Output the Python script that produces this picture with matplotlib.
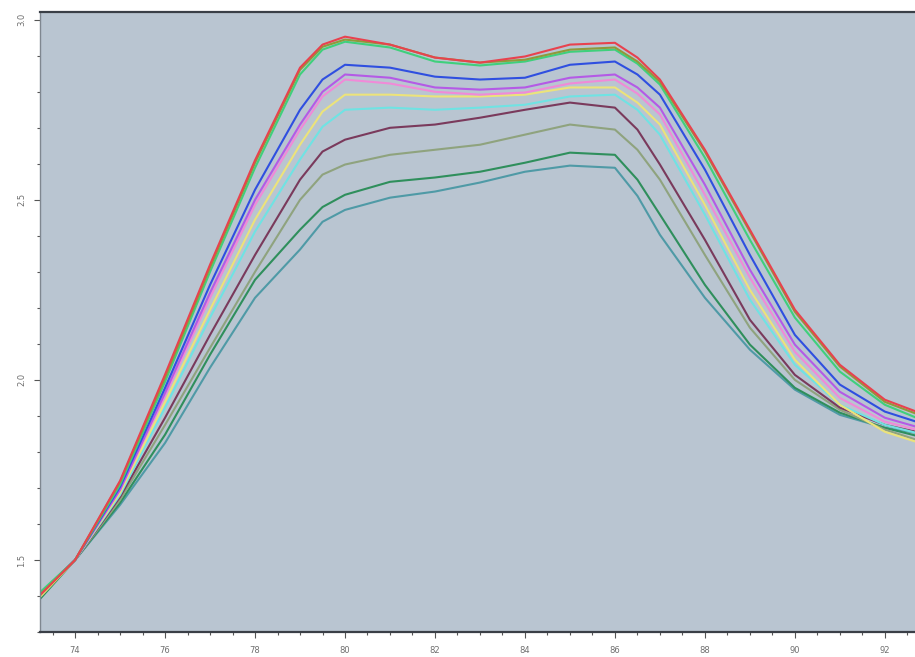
import matplotlib
matplotlib.use("Agg")
import matplotlib.pyplot as plt
from matplotlib.ticker import MultipleLocator, FixedLocator

# Temperature axis (°C) shared by all traces
temperature = [73.2, 74, 75, 76, 77, 78, 79, 79.5, 80, 81, 82, 83, 84, 85, 86,
               86.5, 87, 88, 89, 90, 91, 92, 92.7]

# Signal of each trace, ordered from highest to lowest at the plateau
red = [1.40, 1.50, 1.72, 2.015, 2.32, 2.61, 2.867, 2.931, 2.953, 2.931, 2.895,
       2.881, 2.898, 2.931, 2.936, 2.895, 2.834, 2.639, 2.417, 2.195, 2.042,
       1.945, 1.912]
olive = [1.40, 1.50, 1.717, 2.006, 2.312, 2.603, 2.861, 2.925, 2.945, 2.931, 2.895,
         2.881, 2.889, 2.917, 2.923, 2.884, 2.828, 2.634, 2.412, 2.189, 2.037,
         1.939, 1.906]
green = [1.408, 1.50, 1.709, 1.995, 2.30, 2.589, 2.848, 2.917, 2.939, 2.923, 2.884,
         2.873, 2.884, 2.911, 2.917, 2.878, 2.820, 2.617, 2.389, 2.173, 2.023,
         1.931, 1.895]
blue = [1.403, 1.50, 1.703, 1.978, 2.264, 2.528, 2.75, 2.834, 2.875, 2.867, 2.842,
        2.834, 2.839, 2.875, 2.884, 2.848, 2.792, 2.584, 2.347, 2.125, 1.987,
        1.912, 1.884]
violet = [1.403, 1.50, 1.695, 1.964, 2.242, 2.50, 2.709, 2.80, 2.848, 2.839, 2.812,
          2.806, 2.812, 2.839, 2.848, 2.812, 2.756, 2.542, 2.306, 2.098, 1.967,
          1.895, 1.870]
pink = [1.403, 1.50, 1.695, 1.956, 2.228, 2.486, 2.695, 2.787, 2.834, 2.823, 2.80,
        2.792, 2.798, 2.823, 2.834, 2.795, 2.737, 2.514, 2.284, 2.078, 1.95,
        1.884, 1.862]
yellow = [1.395, 1.50, 1.687, 1.939, 2.195, 2.445, 2.653, 2.745, 2.792, 2.792, 2.787,
          2.787, 2.792, 2.812, 2.812, 2.770, 2.709, 2.486, 2.25, 2.056, 1.931,
          1.856, 1.828]
cyan = [1.403, 1.50, 1.681, 1.923, 2.173, 2.412, 2.612, 2.703, 2.75, 2.756, 2.75,
        2.756, 2.764, 2.787, 2.792, 2.75, 2.681, 2.459, 2.223, 2.042, 1.931,
        1.875, 1.853]
maroon = [1.403, 1.50, 1.675, 1.895, 2.125, 2.347, 2.556, 2.634, 2.667, 2.70, 2.709,
          2.728, 2.75, 2.77, 2.756, 2.695, 2.598, 2.389, 2.167, 2.014, 1.923,
          1.875, 1.856]
grey_olive = [1.395, 1.50, 1.667, 1.875, 2.089, 2.30, 2.50, 2.57, 2.598, 2.625, 2.639,
              2.653, 2.681, 2.709, 2.695, 2.639, 2.556, 2.347, 2.145, 2.0, 1.917,
              1.862, 1.834]
dark_green = [1.389, 1.50, 1.659, 1.848, 2.07, 2.278, 2.417, 2.48, 2.514, 2.55, 2.562,
              2.578, 2.603, 2.631, 2.625, 2.556, 2.459, 2.264, 2.098, 1.978, 1.909,
              1.867, 1.845]
teal = [1.395, 1.50, 1.653, 1.825, 2.034, 2.228, 2.362, 2.439, 2.472, 2.506, 2.523,
        2.548, 2.578, 2.595, 2.589, 2.511, 2.403, 2.228, 2.084, 1.973, 1.903,
        1.867, 1.853]

traces = [
    (teal, "#4f9aa6"),
    (dark_green, "#2f8f5c"),
    (grey_olive, "#8fa37e"),
    (maroon, "#7a3a5c"),
    (cyan, "#6fe3e3"),
    (yellow, "#ece37a"),
    (pink, "#f08ad8"),
    (violet, "#b45ae6"),
    (blue, "#2f4fe0"),
    (green, "#3fd07c"),
    (olive, "#8f9a3a"),
    (red, "#e8424e"),
]

y_ticks = [1.5, 2.0, 2.5, 3.0]
y_labels = ["1.5", "2.0", "2.5", "3.0"]
x_ticks = [74, 76, 78, 80, 82, 84, 86, 88, 90, 92]
x_labels = ["74", "76", "78", "80", "82", "84", "86", "88", "90", "92"]

fig = plt.figure(figsize=(9.15, 6.57), dpi=100)
fig.patch.set_facecolor("white")
ax = fig.add_axes([0.0437, 0.038, 0.9563, 0.944])
ax.set_facecolor("#b9c5d1")

for values, color in traces:
    ax.plot(temperature, values, color=color, linewidth=1.5,
            solid_joinstyle="round", solid_capstyle="round")

ax.set_xlim(73.22, 92.67)
ax.set_ylim(1.30, 3.022)

ax.yaxis.set_major_locator(FixedLocator(y_ticks))
ax.set_yticklabels(y_labels, rotation=90, va="center")
ax.yaxis.set_minor_locator(MultipleLocator(0.1))
ax.xaxis.set_major_locator(FixedLocator(x_ticks))
ax.set_xticklabels(x_labels)
ax.xaxis.set_minor_locator(MultipleLocator(0.5))

ax.tick_params(axis="both", which="both", colors="#555555", labelcolor="#6f6f6f",
               labelsize=6, direction="out", width=0.8)
ax.tick_params(axis="both", which="major", length=4, pad=6)
ax.tick_params(axis="both", which="minor", length=2.5)

for side in ("top", "bottom"):
    ax.spines[side].set_color("#3a3f47")
    ax.spines[side].set_linewidth(1.6)
ax.spines["left"].set_color("#7f8790")
ax.spines["left"].set_linewidth(1.0)
ax.spines["right"].set_visible(False)

fig.savefig("out.png", dpi=100)
